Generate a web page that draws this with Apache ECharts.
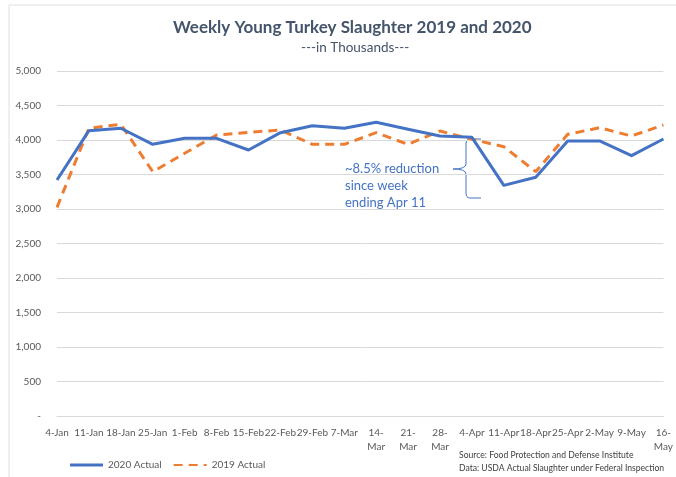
<!DOCTYPE html>
<html><head><meta charset="utf-8">
<script src="https://cdn.jsdelivr.net/npm/echarts@6/dist/echarts.min.js"></script>
<style>html,body{margin:0;padding:0;background:#fff}#c{width:676px;height:477px}</style>
</head><body><div id="c"></div>
<script>
const categories = ['4-Jan','11-Jan','18-Jan','25-Jan','1-Feb','8-Feb','15-Feb','22-Feb','29-Feb','7-Mar','14-\nMar','21-\nMar','28-\nMar','4-Apr','11-Apr','18-Apr','25-Apr','2-May','9-May','16-\nMay'];
const actual2020 = [3420,4135,4170,3937,4024,4024,3855,4106,4207,4170,4256,4155,4058,4039,3343,3459,3986,3986,3773,4014];
const actual2019 = [3024,4170,4227,3541,3807,4072,4111,4145,3937,3937,4106,3937,4130,4010,3903,3541,4082,4178,4058,4217];
const yTicks = [0,500,1000,1500,2000,2500,3000,3500,4000,4500,5000];
const font = 'Lato, "Open Sans", sans-serif';
const chart = echarts.init(document.getElementById('c'));
const braceStyle = {fill:'none',stroke:'#4472C4',lineWidth:1};
chart.setOption({
  animation:false,
  title:[
    {text:'Weekly Young Turkey Slaughter 2019 and 2020',left:168,top:14,
     textStyle:{fontFamily:font,fontSize:17,fontWeight:'bold',color:'#44546A'}},
    {text:'---in Thousands---',left:296,top:36,
     textStyle:{fontFamily:font,fontSize:13.5,fontWeight:'normal',color:'#44546A'}}
  ],
  legend:{left:65,top:455,itemWidth:33,itemHeight:3,itemGap:11,
    textStyle:{fontFamily:font,fontSize:10,color:'#595959'},
    data:[{name:'2020 Actual',icon:'rect'},{name:'2019 Actual'}]},
  grid:{left:57,right:10,top:71,bottom:61,containLabel:false},
  xAxis:{type:'category',data:categories,boundaryGap:false,
    axisLine:{lineStyle:{color:'#D9D9D9'}},axisTick:{show:false},
    axisLabel:{interval:0,fontFamily:font,fontSize:10,color:'#595959',margin:10,lineHeight:14}},
  yAxis:{type:'value',min:yTicks[0],max:yTicks[yTicks.length-1],interval:500,
    axisLine:{show:false},axisTick:{show:false},
    splitLine:{lineStyle:{color:'#D9D9D9'}},
    axisLabel:{fontFamily:font,fontSize:10,color:'#595959',margin:16,
      formatter:v=>v===0?'-':v.toLocaleString('en-US')}},
  series:[
    {name:'2020 Actual',type:'line',data:actual2020,symbol:'none',color:'#4472C4',
     lineStyle:{width:3,color:'#4472C4',join:'round'},z:3},
    {name:'2019 Actual',type:'line',data:actual2019,symbol:'none',color:'#ED7D31',
     lineStyle:{width:3,color:'#ED7D31',type:[9,6]},z:2}
  ],
  graphic:[
    {type:'rect',shape:{x:9,y:5,width:700,height:500},style:{fill:'none',stroke:'#E0E0E0',lineWidth:1},silent:true},
    {type:'text',x:345,y:160,style:{text:'~8.5% reduction\nsince week\nending Apr 11',
      fontFamily:font,fontSize:13,lineHeight:17,fill:'#4472C4'}},
    {type:'line',shape:{x1:481,y1:139,x2:470,y2:139},style:braceStyle},
    {type:'bezierCurve',shape:{x1:470,y1:139,x2:466,y2:144,cpx1:466,cpy1:139},style:braceStyle},
    {type:'line',shape:{x1:466,y1:144,x2:466,y2:164},style:braceStyle},
    {type:'bezierCurve',shape:{x1:466,y1:164,x2:453,y2:169,cpx1:466,cpy1:169},style:braceStyle},
    {type:'bezierCurve',shape:{x1:453,y1:169,x2:466,y2:174,cpx1:466,cpy1:169},style:braceStyle},
    {type:'line',shape:{x1:466,y1:174,x2:466,y2:193},style:braceStyle},
    {type:'bezierCurve',shape:{x1:466,y1:193,x2:470,y2:198,cpx1:466,cpy1:198},style:braceStyle},
    {type:'line',shape:{x1:470,y1:198,x2:481,y2:198},style:braceStyle},
    {type:'text',x:459,y:448,style:{text:'Source: Food Protection and Defense Institute\nData: USDA Actual Slaughter under Federal Inspection',
      fontFamily:font,fontSize:8.6,lineHeight:13.5,fill:'#404040'}}
  ]
});
</script></body></html>
